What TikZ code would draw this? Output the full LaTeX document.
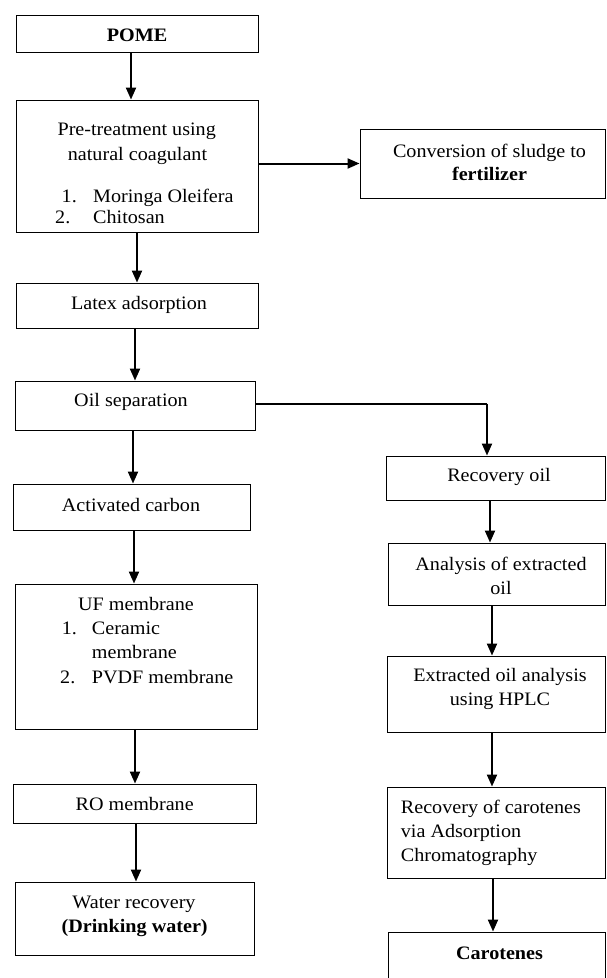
\documentclass[tikz,border=0pt]{standalone}
\usepackage{fontspec}
\setmainfont{Liberation Serif}[FakeStretch=1.06]
\usetikzlibrary{arrows.meta}
\begin{document}
\begin{tikzpicture}[x=1pt,y=-1pt,
  box/.style={draw=black, line width=0.9pt, rectangle, inner sep=0pt},
  arr/.style={line width=2pt, -{Triangle[length=12pt,width=10pt]}},
  thinline/.style={line width=1.1pt},
  txt/.style={anchor=base, inner sep=0pt, font=\fontsize{19}{22}\selectfont},
  txtl/.style={anchor=base west, inner sep=0pt, font=\fontsize{19}{22}\selectfont},
  bf/.style={font=\fontsize{19}{22}\selectfont\bfseries}]
\clip (0,0) rectangle (607,978);
% boxes
\node[box, minimum width=242pt, minimum height=37pt] (pome) at (137,33.5) {};
\node[box, minimum width=242pt, minimum height=132pt] (pre) at (137,166) {};
\node[box, minimum width=245pt, minimum height=69pt] (conv) at (482.5,163.5) {};
\node[box, minimum width=242pt, minimum height=45pt] (latex) at (137,305.5) {};
\node[box, minimum width=240pt, minimum height=49pt] (oil) at (135,405.5) {};
\node[box, minimum width=219pt, minimum height=44pt] (rec) at (495.5,478) {};
\node[box, minimum width=237pt, minimum height=46pt] (act) at (131.5,507) {};
\node[box, minimum width=217pt, minimum height=62pt] (ana) at (496.5,574) {};
\node[box, minimum width=242pt, minimum height=145pt] (uf) at (136,656.5) {};
\node[box, minimum width=218pt, minimum height=76pt] (ext) at (496,694) {};
\node[box, minimum width=243pt, minimum height=39pt] (ro) at (134.5,803.5) {};
\node[box, minimum width=218pt, minimum height=91pt] (car) at (496,832.5) {};
\node[box, minimum width=239pt, minimum height=73pt] (water) at (134.5,918.5) {};
\node[box, minimum width=217pt, minimum height=68pt] (carot) at (496.5,966) {};
% texts
\node[txt, bf] (tpome) at (137,41.5) {POME};
\node[txt] (tpre1) at (136.7,135.5) {Pre-treatment using};
\node[txt] (tpre2) at (137.5,160.7) {natural coagulant};
\node[txtl] (tpren1) at (61.5,202) {1.};
\node[txtl] (tpre3) at (93,202) {Moringa Oleifera};
\node[txtl] (tpren2) at (55,223.3) {2.};
\node[txtl] (tpre4) at (93,223.3) {Chitosan};
\node[txt] (tconv1) at (489.5,157) {Conversion of sludge to};
\node[txt, bf] (tconv2) at (489.5,180.7) {fertilizer};
\node[txt] (tlatex) at (139,309.3) {Latex adsorption};
\node[txt] (toil) at (131,406.7) {Oil separation};
\node[txt] (trec) at (499,481.7) {Recovery oil};
\node[txt] (tact) at (131,511.7) {Activated carbon};
\node[txt] (tana1) at (501,570.7) {Analysis of extracted};
\node[txt] (tana2) at (501,594) {oil};
\node[txt] (tuf1) at (136,610) {UF membrane};
\node[txtl] (tufn1) at (61.7,634) {1.};
\node[txtl] (tuf2) at (91.7,634) {Ceramic};
\node[txtl] (tuf3) at (91.7,658.3) {membrane};
\node[txtl] (tufn2) at (60,683.3) {2.};
\node[txtl] (tuf4) at (91.7,683.3) {PVDF membrane};
\node[txt] (text1) at (500,681.7) {Extracted oil analysis};
\node[txt] (text2) at (500,705.7) {using HPLC};
\node[txtl] (tcar1) at (400.7,813.3) {Recovery of carotenes};
\node[txtl] (tcar2) at (400.7,837.3) {via Adsorption};
\node[txtl] (tcar3) at (400.7,861.7) {Chromatography};
\node[txt] (tro) at (134.7,810.7) {RO membrane};
\node[txt] (twater1) at (134,908.3) {Water recovery};
\node[txt, bf] (twater2) at (134.7,932.3) {(Drinking water)};
\node[txt, bf] (tcarot) at (499.5,959.3) {Carotenes};
% connectors
\draw[arr] ([xshift=-6pt]pome.south) -- ([xshift=-6pt]pre.north);
\draw[arr] (pre.south) -- (latex.north);
\draw[arr] (latex.south -| oil.north) -- (oil.north);
\draw[arr] (conv.west -| pre.east) -- (conv.west);
\draw[arr] ([xshift=-2pt]oil.south) -- ([xshift=1.5pt]act.north);
\draw[arr] ([xshift=2.5pt]act.south) -- ([xshift=-2pt]uf.north);
\draw[arr] ([xshift=-1pt]uf.south) -- ([xshift=0.5pt]ro.north);
\draw[arr] ([xshift=1.5pt]ro.south) -- ([xshift=1.5pt]water.north);
\coordinate (turn) at (487,404);
\draw[thinline] ([yshift=1.5pt]oil.east) -- (turn);
\draw[arr] ([yshift=0.5pt]turn) -- (turn |- rec.north);
\draw[arr] ([xshift=-5.5pt]rec.south) -- ([xshift=-6.5pt]ana.north);
\draw[arr] ([xshift=-4.5pt]ana.south) -- ([xshift=-4pt]ext.north);
\draw[arr] ([xshift=-4pt]ext.south) -- ([xshift=-4pt]car.north);
\draw[arr] ([xshift=-3pt]car.south) -- ([xshift=-3.5pt]carot.north);
\end{tikzpicture}
\end{document}
